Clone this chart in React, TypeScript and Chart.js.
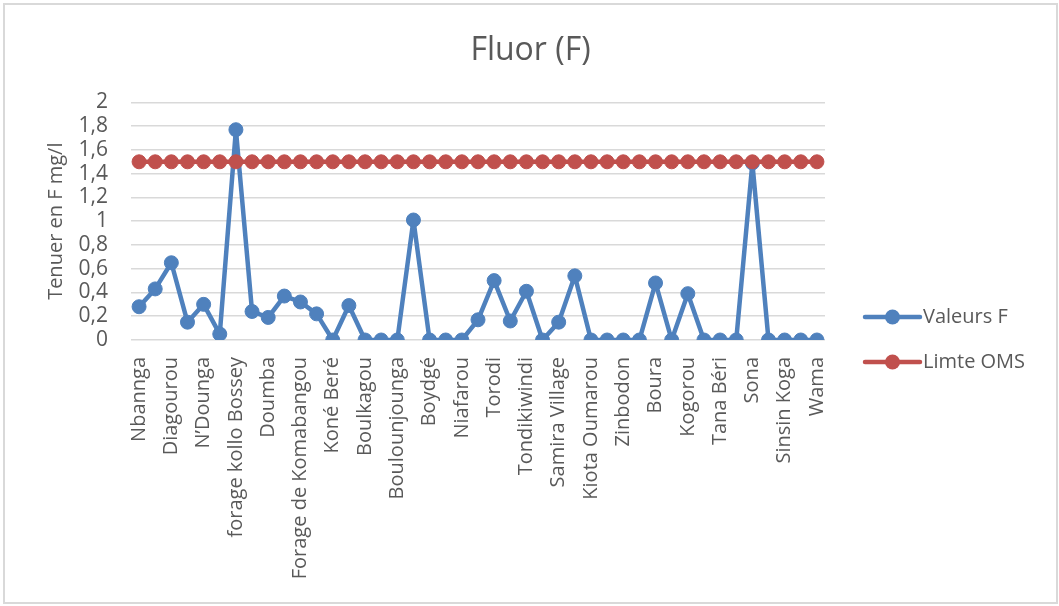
import React, { useEffect, useRef } from "react";
import { Chart, registerables } from "chart.js";

Chart.register(...registerables);

const chartTitle = "Fluor (F)";
const yAxisTitle = "Tenuer en F mg/l";

// Only every other site name is printed on the reference axis; hidden ones left blank.
const categories: string[] = [
  "Nbannga", "", "Diagourou", "", "N’Dounga", "", "forage kollo Bossey", "",
  "Doumba", "", "Forage de Komabangou", "", "Koné Beré", "", "Boulkagou", "",
  "Boulounjounga", "", "Boydgé", "", "Niafarou", "", "Torodi", "",
  "Tondikiwindi", "", "Samira Village", "", "Kiota Oumarou", "", "Zinbodon", "",
  "Boura", "", "Kogorou", "", "Tana Béri", "", "Sona", "", "Sinsin Koga", "", "Wama",
];

const valeursF: number[] = [
  0.28, 0.43, 0.65, 0.15, 0.3, 0.05, 1.77, 0.24, 0.19, 0.37, 0.32, 0.22,
  0, 0.29, 0, 0, 0, 1.01, 0, 0, 0, 0.17, 0.5, 0.16, 0.41, 0, 0.15, 0.54,
  0, 0, 0, 0, 0.48, 0, 0.39, 0, 0, 0, 1.49, 0, 0, 0, 0,
];

const limiteOMS: number[] = categories.map(() => 1.5);

const seriesNames = ["Valeurs F", "Limte OMS"];
const seriesColors = ["#4f81bd", "#c0504d"];

const yMin = 0;
const yMax = 2;
const yStep = 0.2;

const FONT = "'Open Sans', 'DejaVu Sans', sans-serif";
const TEXT = "#595959";
const GRID = "#d9d9d9";

const sideLegend = {
  id: "sideLegend",
  afterDraw(chart: any) {
    const ctx = chart.ctx;
    const area = chart.chartArea;
    const x0 = area.right + 40;
    const lineLen = 55;
    chart.data.datasets.forEach((ds: any, i: number) => {
      const y = 312 + i * 45;
      ctx.save();
      ctx.strokeStyle = ds.borderColor;
      ctx.lineWidth = 4.5;
      ctx.lineCap = "round";
      ctx.beginPath();
      ctx.moveTo(x0, y);
      ctx.lineTo(x0 + lineLen, y);
      ctx.stroke();
      ctx.fillStyle = ds.backgroundColor;
      ctx.beginPath();
      ctx.arc(x0 + lineLen / 2, y, 7.5, 0, Math.PI * 2);
      ctx.fill();
      ctx.fillStyle = TEXT;
      ctx.font = `20px ${FONT}`;
      ctx.textBaseline = "middle";
      ctx.textAlign = "left";
      ctx.fillText(ds.label, x0 + lineLen + 3, y);
      ctx.restore();
    });
  },
};

export default function App() {
  const ref = useRef<HTMLCanvasElement | null>(null);

  useEffect(() => {
    if (!ref.current) return;
    const chart = new Chart(ref.current, {
      type: "line",
      data: {
        labels: categories,
        datasets: [
          {
            label: seriesNames[0],
            data: valeursF,
            borderColor: seriesColors[0],
            backgroundColor: seriesColors[0],
            borderWidth: 4.5,
            borderJoinStyle: "round",
            pointRadius: 7,
            pointBorderWidth: 1,
            pointBackgroundColor: seriesColors[0],
            pointBorderColor: seriesColors[0],
            tension: 0,
            order: 1,
          },
          {
            label: seriesNames[1],
            data: limiteOMS,
            borderColor: seriesColors[1],
            backgroundColor: seriesColors[1],
            borderWidth: 4.5,
            borderJoinStyle: "round",
            pointRadius: 7,
            pointBorderWidth: 1,
            pointBackgroundColor: seriesColors[1],
            pointBorderColor: seriesColors[1],
            tension: 0,
            order: 0,
          },
        ],
      },
      options: {
        responsive: false,
        animation: false,
        layout: { padding: { top: 27, right: 0, bottom: 0, left: 0 } },
        plugins: {
          legend: { display: false },
          tooltip: { enabled: false },
          title: {
            display: true,
            text: chartTitle,
            color: TEXT,
            font: { family: FONT, size: 32, weight: "normal", lineHeight: 1.2 },
            padding: { top: 0, bottom: 32 },
          },
        },
        scales: {
          x: {
            offset: true,
            grid: { display: false, drawTicks: false },
            border: { display: false },
            ticks: {
              autoSkip: false,
              maxRotation: 90,
              minRotation: 90,
              padding: 17,
              color: TEXT,
              font: { family: FONT, size: 20 },
            },
            afterFit: (scale: any) => {
              scale.height = 262;
            },
          },
          y: {
            min: yMin,
            max: yMax,
            grid: { color: GRID, lineWidth: 1.5, drawTicks: false },
            border: { display: false },
            ticks: {
              stepSize: yStep,
              autoSkip: false,
              padding: 23,
              color: TEXT,
              font: { family: FONT, size: 21 },
              callback: (v: any) => String(Math.round(Number(v) * 10) / 10).replace(".", ","),
            },
            title: {
              display: true,
              text: yAxisTitle,
              color: TEXT,
              font: { family: FONT, size: 20, lineHeight: 1.2 },
              padding: { top: 39, bottom: 39 },
            },
            afterFit: (scale: any) => {
              scale.width = 126;
            },
          },
          legendSpace: {
            type: "linear",
            position: "right",
            display: true,
            grid: { display: false, drawTicks: false },
            border: { display: false },
            ticks: { display: false },
            afterFit: (scale: any) => {
              scale.width = 231;
            },
          },
        },
      },
      plugins: [sideLegend],
    });
    return () => chart.destroy();
  }, []);

  return (
    <div
      style={{
        position: "absolute",
        left: 3,
        top: 3,
        width: 1055,
        height: 601,
        boxSizing: "border-box",
        border: "2px solid #d9d9d9",
        background: "#fff",
      }}
    >
      <canvas ref={ref} width={1051} height={597} style={{ display: "block", width: 1051, height: 597 }} />
    </div>
  );
}
